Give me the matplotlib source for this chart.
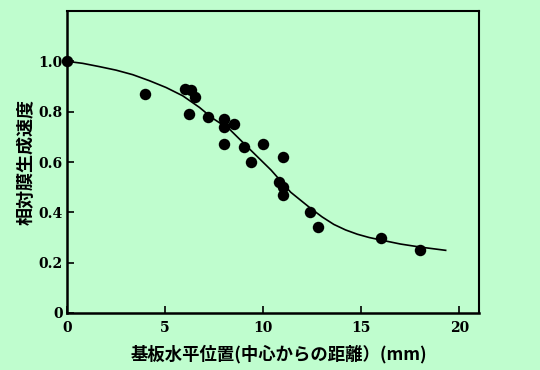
import numpy as np
import matplotlib.pyplot as plt

# measured points (distance from centre in mm, relative growth rate)
pos_mm = [0.0, 4.0, 6.0, 6.3, 6.5, 6.2, 7.2, 8.0, 8.0, 8.5, 8.0, 9.0, 10.0, 9.4,
          11.0, 10.8, 11.0, 11.0, 12.4, 12.8, 16.0, 18.0]
rate = [1.00, 0.87, 0.89, 0.885, 0.86, 0.79, 0.78, 0.77, 0.74, 0.75, 0.67, 0.66, 0.67, 0.60,
        0.62, 0.52, 0.50, 0.47, 0.40, 0.34, 0.30, 0.25]

# fitted curve
curve_x = [0.0, 0.8, 1.65, 2.5, 3.35, 4.2, 5.05, 5.9, 6.75, 7.4, 8.3, 9.3, 10.4,
           11.4, 12.4, 13.0, 13.6, 14.2, 14.8, 15.4, 16.0, 17.0, 18.0, 19.3]
curve_y = [1.0, 0.992, 0.979, 0.965, 0.947, 0.923, 0.896, 0.863, 0.817, 0.775, 0.729,
           0.652, 0.568, 0.48, 0.417, 0.382, 0.352, 0.330, 0.313, 0.300, 0.290, 0.274,
           0.262, 0.249]

x_ticks = [0, 5, 10, 15, 20]
y_ticks = [0, 0.2, 0.4, 0.6, 0.8, 1.0]
y_ticklabels = ['0', '0.2', '0.4', '0.6', '0.8', '1.0']

bg = '#bffdce'
cjk = ['Noto Sans CJK JP', 'DejaVu Sans']

fig = plt.figure(figsize=(5.4, 3.7), dpi=100, facecolor=bg)
ax = fig.add_axes([67/540, 57/370, 412/540, 302/370], facecolor=bg)

ax.plot(curve_x, curve_y, color='black', lw=1.2, zorder=2)
ax.scatter(pos_mm, rate, s=68, color='black', linewidths=0, zorder=3, clip_on=False)

ax.set_xlim(0, 21)
ax.set_ylim(0, 1.2)
ax.set_xticks(x_ticks)
ax.set_yticks(y_ticks)
ax.set_yticklabels(y_ticklabels)
ax.tick_params(direction='in', length=5, width=1.2, colors='black')
ax.tick_params(axis='y', pad=3)
ax.tick_params(axis='x', pad=6)
for lab in ax.get_xticklabels() + ax.get_yticklabels():
    lab.set_family('DejaVu Serif')
    lab.set_fontweight('bold')
    lab.set_fontsize(10)
for side in ['left', 'bottom']:
    ax.spines[side].set_linewidth(1.8)
for side in ['top', 'right']:
    ax.spines[side].set_linewidth(1.5)

ax.set_xlabel('基板水平位置(中心からの距離）(mm)', family=cjk, fontweight='bold',
              fontsize=12.5, labelpad=5)
ax.xaxis.set_label_coords(0.515, -0.105)
ax.set_ylabel('相対膜生成速度', family=cjk, fontweight='bold', fontsize=13, labelpad=2)

fig.savefig('out.png', dpi=100, facecolor=bg)
